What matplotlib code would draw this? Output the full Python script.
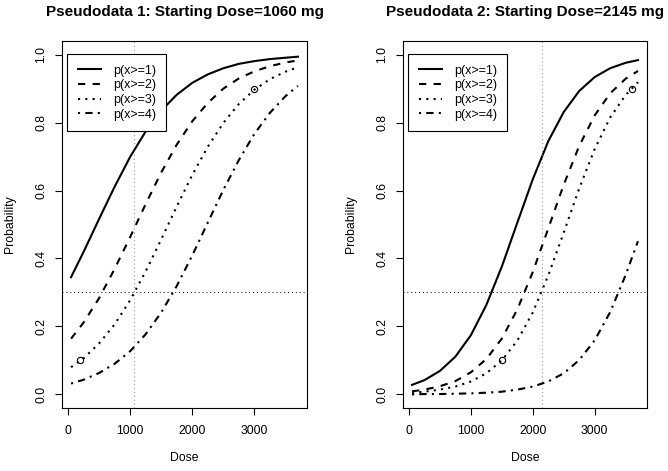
import numpy as np
import matplotlib.pyplot as plt

plt.rcParams['font.family'] = ['Liberation Sans', 'DejaVu Sans']

dose = [50, 250, 500, 750, 1000, 1250, 1500, 1750, 2000, 2250, 2500, 2750, 3000, 3250, 3500, 3700]

# Pseudodata 1
left_p1 = [0.345, 0.419, 0.516, 0.611, 0.699, 0.774, 0.835, 0.882, 0.917, 0.942, 0.960, 0.973, 0.981, 0.987, 0.991, 0.994]
left_p2 = [0.164, 0.211, 0.283, 0.369, 0.463, 0.560, 0.653, 0.735, 0.804, 0.858, 0.900, 0.930, 0.951, 0.966, 0.977, 0.983]
left_p3 = [0.080, 0.106, 0.150, 0.206, 0.277, 0.362, 0.456, 0.553, 0.646, 0.729, 0.799, 0.855, 0.897, 0.928, 0.950, 0.963]
left_p4 = [0.032, 0.043, 0.063, 0.090, 0.127, 0.177, 0.241, 0.319, 0.409, 0.506, 0.602, 0.690, 0.767, 0.829, 0.878, 0.908]
left_obs_x = [200, 3000]
left_obs_y = [0.1, 0.9]
left_start = 1060

# Pseudodata 2
right_p1 = [0.028, 0.042, 0.069, 0.111, 0.174, 0.263, 0.376, 0.505, 0.633, 0.745, 0.831, 0.893, 0.934, 0.960, 0.976, 0.984]
right_p2 = [0.009, 0.014, 0.024, 0.039, 0.065, 0.104, 0.164, 0.250, 0.360, 0.488, 0.617, 0.731, 0.821, 0.886, 0.929, 0.952]
right_p3 = [0.005, 0.008, 0.014, 0.023, 0.038, 0.062, 0.100, 0.158, 0.241, 0.350, 0.476, 0.606, 0.722, 0.815, 0.881, 0.919]
right_p4 = [0.000, 0.001, 0.001, 0.002, 0.003, 0.005, 0.008, 0.014, 0.023, 0.038, 0.062, 0.101, 0.159, 0.242, 0.351, 0.451]
right_obs_x = [1500, 3600]
right_obs_y = [0.1, 0.9]
right_start = 2145

labels = ['p(x>=1)', 'p(x>=2)', 'p(x>=3)', 'p(x>=4)']
styles = ['-', (0, (3.5, 3.5)), (0, (1, 2.5)), (0, (1, 2.5, 3.5, 2.5))]


def panel(ax, curves, start, obs_x, obs_y, title):
    for y, ls, lab in zip(curves, styles, labels):
        ax.plot(dose, y, color='black', lw=1.5, linestyle=ls, label=lab)
    ax.axhline(0.3, color='black', lw=0.7, linestyle=(0, (1, 3)))
    ax.axvline(start, color='gray', lw=0.7, linestyle=(0, (1, 3)))
    ax.plot(obs_x, obs_y, 'o', color='black', markersize=4.5,
            fillstyle='none', markeredgewidth=0.8)
    ax.set_xlim(-96, 3846)
    ax.set_ylim(-0.04, 1.04)
    ax.set_xticks([0, 1000, 2000, 3000])
    ax.set_yticks([0.0, 0.2, 0.4, 0.6, 0.8, 1.0])
    ax.set_yticklabels(['0.0', '0.2', '0.4', '0.6', '0.8', '1.0'])
    ax.tick_params(axis='both', length=5, width=0.8, labelsize=8.8)
    ax.tick_params(axis='x', pad=7)
    ax.tick_params(axis='y', pad=5.5, labelrotation=90)
    for t in ax.get_yticklabels():
        t.set_va('center')
    for s in ax.spines.values():
        s.set_linewidth(0.8)
    ax.set_xlabel('Dose', fontsize=8.8, labelpad=11)
    ax.set_ylabel('Probability', fontsize=8.8, labelpad=14)
    ax.set_title(title, fontsize=11, fontweight='bold', pad=18)
    leg = ax.legend(loc='upper left', bbox_to_anchor=(0.021, 0.9646),
                    borderaxespad=0, fontsize=9, fancybox=False, framealpha=1,
                    edgecolor='black', handlelength=1.85, handletextpad=0.95,
                    borderpad=0.85, labelspacing=0.21)
    leg.get_frame().set_linewidth(0.8)


fig = plt.figure(figsize=(6.68, 4.71), dpi=100)
ax1 = fig.add_axes([0.0928, 0.1338, 0.3668, 0.779])
ax2 = fig.add_axes([0.6033, 0.1338, 0.3653, 0.779])

panel(ax1, [left_p1, left_p2, left_p3, left_p4], left_start, left_obs_x, left_obs_y,
      'Pseudodata 1: Starting Dose=1060 mg')
panel(ax2, [right_p1, right_p2, right_p3, right_p4], right_start, right_obs_x, right_obs_y,
      'Pseudodata 2: Starting Dose=2145 mg')

fig.savefig('out.png', dpi=100)
